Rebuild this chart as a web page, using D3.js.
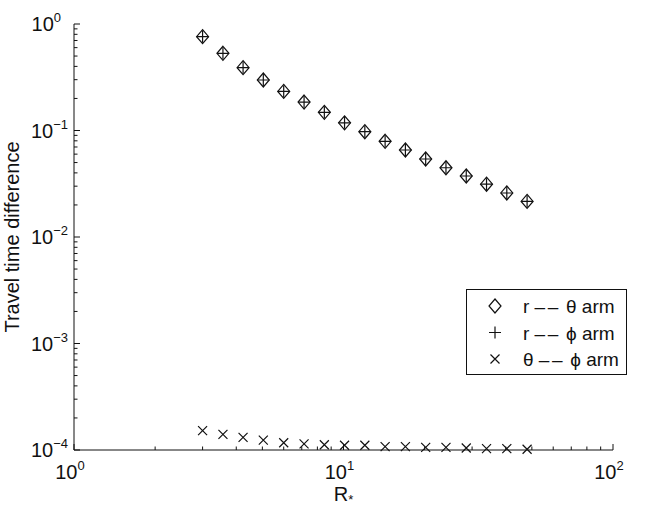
<!DOCTYPE html>
<html>
<head>
<meta charset="utf-8">
<script src="https://cdn.jsdelivr.net/npm/d3@7"></script>
<style>
  body { margin: 0; background: #fff; }
  svg { font-family: "Liberation Sans", Arial, sans-serif; }
</style>
</head>
<body>
<svg id="chart" width="654" height="507"></svg>
<script>
// R* values (x)
const rValues = [3, 3.57, 4.24, 5.04, 6, 7.14, 8.49, 10.09, 12, 14.27, 16.97, 20.18, 24, 28.54, 33.94, 40.36, 48];
// r -- theta arm
const rThetaValues = [0.760, 0.531, 0.389, 0.298, 0.233, 0.185, 0.148, 0.118, 0.0974, 0.0792, 0.0656, 0.0540, 0.0447, 0.0374, 0.0313, 0.0259, 0.0216];
// r -- phi arm (lies on top of r -- theta)
const rPhiValues = [0.760, 0.531, 0.389, 0.298, 0.233, 0.185, 0.148, 0.118, 0.0974, 0.0792, 0.0656, 0.0540, 0.0447, 0.0374, 0.0313, 0.0259, 0.0216];
// theta -- phi arm
const thetaPhiValues = [1.52e-4, 1.40e-4, 1.315e-4, 1.24e-4, 1.17e-4, 1.14e-4, 1.12e-4, 1.107e-4, 1.107e-4, 1.074e-4, 1.074e-4, 1.06e-4, 1.06e-4, 1.044e-4, 1.03e-4, 1.03e-4, 1.016e-4];

const xDomain = [1, 100];
const yDomain = [1e-4, 1];
const xTickExps = [0, 1, 2];
const yTickExps = [0, -1, -2, -3, -4];
const legendLabels = [
    ["r ", "\u2013\u2013", " \u03b8 arm"],
    ["r ", "\u2013\u2013", " \u03d5 arm"],
    ["\u03b8 ", "\u2013\u2013", " \u03d5 arm"]
];

const svg = d3.select("#chart");
const margin = {left: 74, right: 41, top: 24, bottom: 57};
const W = 654, H = 507;

const x = d3.scaleLog().domain(xDomain).range([margin.left, W - margin.right]);
const y = d3.scaleLog().domain(yDomain).range([H - margin.bottom, margin.top]);

const ink = "#111";

// axes (ticks inward, like matlab)
function isMajor(v) { return Math.abs(Math.log10(v) - Math.round(Math.log10(v))) < 1e-9; }

const xAxis = svg.append("g").attr("transform", `translate(0,${y.range()[0]})`);
xAxis.append("line").attr("x1", x.range()[0]).attr("x2", x.range()[1])
    .attr("stroke", ink);
xAxis.selectAll(".tk").data(x.ticks()).enter().append("line")
    .attr("x1", d => x(d)).attr("x2", d => x(d))
    .attr("y1", 0).attr("y2", d => isMajor(d) ? -6 : -3.5)
    .attr("stroke", ink);

const yAxis = svg.append("g").attr("transform", `translate(${x.range()[0]},0)`);
yAxis.append("line").attr("y1", y.range()[0]).attr("y2", y.range()[1])
    .attr("stroke", ink);
yAxis.selectAll(".tk").data(y.ticks()).enter().append("line")
    .attr("y1", d => y(d)).attr("y2", d => y(d))
    .attr("x1", 0).attr("x2", d => isMajor(d) ? 6 : 3.5)
    .attr("stroke", ink);

// tick labels 10^n
function powLabel(g, e) {
    g.append("tspan").text("10");
    g.append("tspan").attr("dy", -9).attr("font-size", 13)
        .text(e < 0 ? "\u2212" + (-e) : e);
}

xTickExps.forEach(e => {
    const t = svg.append("text")
        .attr("x", x(Math.pow(10, e)) - 4).attr("y", 479)
        .attr("text-anchor", "middle").attr("font-size", 20).attr("fill", ink);
    powLabel(t, e);
});

yTickExps.forEach(e => {
    const t = svg.append("text")
        .attr("x", e < 0 ? 68 : 61).attr("y", y(Math.pow(10, e)) + 7)
        .attr("text-anchor", "end").attr("font-size", 20).attr("fill", ink);
    powLabel(t, e);
});

// axis titles
const xt = svg.append("text").attr("x", x(10)).attr("y", 501)
    .attr("text-anchor", "middle").attr("font-size", 20).attr("fill", ink);
xt.append("tspan").text("R");
xt.append("tspan").attr("dy", 3).attr("font-size", 13).text("*");

svg.append("text")
    .attr("transform", `translate(19,${(y.range()[0] + y.range()[1]) / 2}) rotate(-90)`)
    .attr("text-anchor", "middle").attr("font-size", 20).attr("fill", ink)
    .text("Travel time difference");

// marker shapes
const diamond = "M0,-7L6,0L0,7L-6,0Z";
const plus = "M-6,0H6M0,-6V6";
const cross = "M-4.5,-4.5L4.5,4.5M4.5,-4.5L-4.5,4.5";

function drawSeries(vals, shape) {
    svg.append("g").selectAll("path").data(vals).enter().append("path")
        .attr("transform", (d, i) => `translate(${x(rValues[i])},${y(d)})`)
        .attr("d", shape)
        .attr("fill", "none").attr("stroke", ink).attr("stroke-width", 1.2);
}
drawSeries(rThetaValues, diamond);
drawSeries(rPhiValues, plus);
drawSeries(thetaPhiValues, cross);

// legend
const leg = svg.append("g");
leg.append("rect").attr("x", 466.5).attr("y", 289.5).attr("width", 160).attr("height", 85)
    .attr("fill", "#fff").attr("stroke", ink);
[diamond, plus, cross].forEach((shape, i) => {
    const cy = 306 + i * 26.5;
    leg.append("path").attr("d", shape)
        .attr("transform", `translate(495,${cy})`)
        .attr("fill", "none").attr("stroke", ink).attr("stroke-width", 1.2);
    const t = leg.append("text").attr("x", 523).attr("y", cy + 7)
        .attr("font-size", 19).attr("fill", ink);
    legendLabels[i].forEach((s, k) => {
        const ts = t.append("tspan").text(s);
        if (k === 1) ts.attr("letter-spacing", 2.5);
    });
});
</script>
</body>
</html>
